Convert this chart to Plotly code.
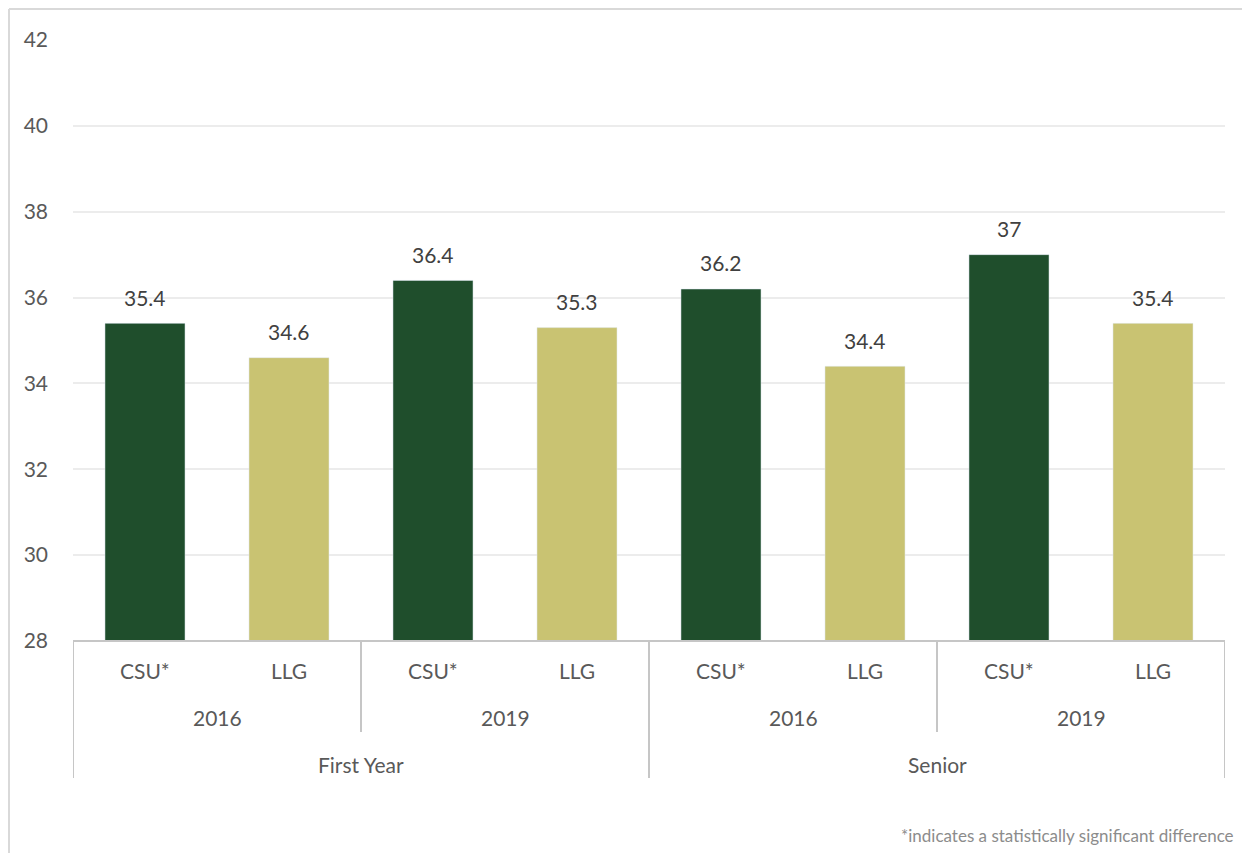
import plotly.graph_objects as go

groups = ["First Year", "Senior"]
years = ["2016", "2019", "2016", "2019"]
bar_labels = ["CSU*", "LLG", "CSU*", "LLG", "CSU*", "LLG", "CSU*", "LLG"]
values = [35.4, 34.6, 36.4, 35.3, 36.2, 34.4, 37.0, 35.4]
value_text = ["35.4", "34.6", "36.4", "35.3", "36.2", "34.4", "37", "35.4"]
y_ticks = [28, 30, 32, 34, 36, 38, 40, 42]
footnote = "*indicates a statistically significant difference"

GREEN = "#1f4e2c"
TAN = "#c9c372"
colors = [GREEN if l.startswith("CSU") else TAN for l in bar_labels]
FONT = "Lato, 'Open Sans', sans-serif"
TXT = "#595959"
LINE = "#c6c6c6"
FS = 21

# plot area in page pixels (page has 8px body offset)
PL, PR, PT, PB = 73, 1225, 40, 641
OFF = 8
W, H = 1242, 845
PH = PB - PT
PW = PR - PL

xs = list(range(len(values)))
fig = go.Figure(go.Bar(
    x=xs, y=values, marker_color=colors, hoverinfo="skip",
))

fig.update_layout(
    width=W, height=H,
    margin=dict(l=PL - OFF, r=W - (PR - OFF), t=PT - OFF, b=H - (PB - OFF)),
    paper_bgcolor="white", plot_bgcolor="white",
    bargap=0.444, showlegend=False,
    font=dict(family=FONT, color=TXT),
    xaxis=dict(range=[-0.5, 7.5], showticklabels=False, showgrid=False,
               zeroline=False, showline=False, fixedrange=True),
    yaxis=dict(range=[28, 42], tickvals=y_ticks, showgrid=True,
               gridcolor="#ececec", gridwidth=2, zeroline=False, showline=False,
               tickfont=dict(family=FONT, size=FS, color=TXT),
               ticklabelstandoff=24, ticks=""),
)

anns = []
for i, (v, t) in enumerate(zip(values, value_text)):
    anns.append(dict(x=i, y=v, xref="x", yref="y", text=t, showarrow=False,
                     yanchor="middle", yshift=26,
                     font=dict(family=FONT, size=FS, color="#404040")))
for i, lab in enumerate(bar_labels):
    anns.append(dict(x=i, y=0, xref="x", yref="paper", text=lab, showarrow=False,
                     yanchor="middle", yshift=-29,
                     font=dict(family=FONT, size=FS, color=TXT)))
for j, yr in enumerate(years):
    anns.append(dict(x=2 * j + 0.5, y=0, xref="x", yref="paper", text=yr, showarrow=False,
                     yanchor="middle", yshift=-76,
                     font=dict(family=FONT, size=FS, color=TXT)))
for k, g in enumerate(groups):
    anns.append(dict(x=4 * k + 1.5, y=0, xref="x", yref="paper", text=g, showarrow=False,
                     yanchor="middle", yshift=-123,
                     font=dict(family=FONT, size=FS, color=TXT)))
anns.append(dict(x=(1236 - PL) / PW, y=-(835 - PB) / PH, xref="paper", yref="paper",
                 text=footnote, showarrow=False, xanchor="right", yanchor="middle",
                 font=dict(family=FONT, size=17, color="#8c8c8c")))
fig.update_layout(annotations=anns)

shapes = []
shapes.append(dict(type="line", xref="x", yref="paper", x0=-0.5, x1=7.5, y0=0, y1=0,
                   line=dict(color=LINE, width=2)))
short_h = -(732 - PB) / PH
long_h = -(778 - PB) / PH
for xpos in [-0.5, 1.5, 3.5, 5.5, 7.5]:
    yb = long_h if xpos in (-0.5, 3.5, 7.5) else short_h
    shapes.append(dict(type="line", xref="x", yref="paper", x0=xpos, x1=xpos, y0=0, y1=yb,
                       line=dict(color=LINE, width=2)))
bx = (9 - PL) / PW
by_top = (PB - 9) / PH
shapes.append(dict(type="line", xref="paper", yref="paper", x0=bx, x1=bx, y0=by_top, y1=-0.5,
                   line=dict(color="#d9d9d9", width=2)))
shapes.append(dict(type="line", xref="paper", yref="paper", x0=bx, x1=1.05, y0=by_top, y1=by_top,
                   line=dict(color="#d9d9d9", width=2)))
fig.update_layout(shapes=shapes)

fig.write_html("out.html")
